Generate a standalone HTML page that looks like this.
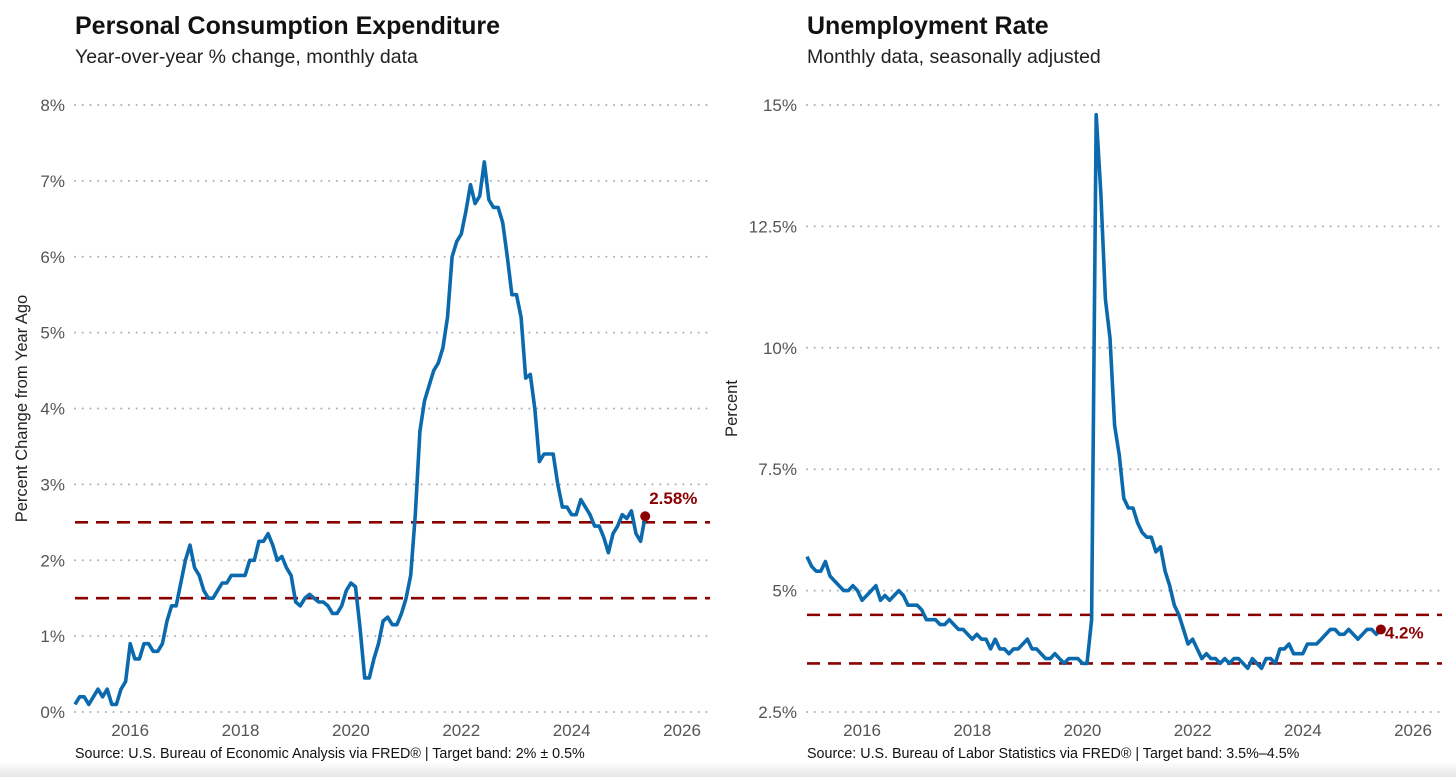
<!DOCTYPE html>
<html><head><meta charset="utf-8"><style>
html,body{margin:0;padding:0;background:#fff;width:1456px;height:777px;overflow:hidden}
svg{display:block;font-family:"Liberation Sans",Arial,sans-serif}
</style></head><body>
<svg id="chart" width="1456" height="777">
<defs><linearGradient id="sh" x1="0" y1="0" x2="0" y2="1"><stop offset="0" stop-color="#fff"/><stop offset="1" stop-color="#e6e6e6"/></linearGradient></defs>
<rect x="0" y="762" width="1456" height="15" fill="url(#sh)"/>
</svg>
<script>
const pceValues=[0.1,0.2,0.2,0.1,0.2,0.3,0.2,0.3,0.1,0.1,0.3,0.4,
0.9,0.7,0.7,0.9,0.9,0.8,0.8,0.9,1.2,1.4,1.4,1.7,
2.0,2.2,1.9,1.8,1.6,1.5,1.5,1.6,1.7,1.7,1.8,1.8,
1.8,1.8,2.0,2.0,2.25,2.25,2.35,2.2,2.0,2.05,1.9,1.8,
1.45,1.4,1.5,1.55,1.5,1.45,1.45,1.4,1.3,1.3,1.4,1.6,
1.7,1.65,1.1,0.45,0.45,0.7,0.9,1.2,1.25,1.15,1.15,1.3,
1.5,1.8,2.6,3.7,4.1,4.3,4.5,4.6,4.8,5.2,6.0,6.2,
6.3,6.6,6.95,6.7,6.8,7.25,6.75,6.65,6.65,6.45,6.0,5.5,
5.5,5.2,4.4,4.45,4.0,3.3,3.4,3.4,3.4,3.0,2.7,2.7,
2.6,2.6,2.8,2.7,2.6,2.45,2.45,2.3,2.1,2.35,2.45,2.6,
2.55,2.65,2.35,2.25,2.58];
const pceTicks=[0,1,2,3,4,5,6,7,8];
const pceBand=[1.5,2.5];
const unrateValues=[5.7,5.5,5.4,5.4,5.6,5.3,5.2,5.1,5.0,5.0,5.1,5.0,
4.8,4.9,5.0,5.1,4.8,4.9,4.8,4.9,5.0,4.9,4.7,4.7,
4.7,4.6,4.4,4.4,4.4,4.3,4.3,4.4,4.3,4.2,4.2,4.1,
4.0,4.1,4.0,4.0,3.8,4.0,3.8,3.8,3.7,3.8,3.8,3.9,
4.0,3.8,3.8,3.7,3.6,3.6,3.7,3.6,3.5,3.6,3.6,3.6,
3.5,3.5,4.4,14.8,13.2,11.0,10.2,8.4,7.8,6.9,6.7,6.7,
6.4,6.2,6.1,6.1,5.8,5.9,5.4,5.1,4.7,4.5,4.2,3.9,
4.0,3.8,3.6,3.7,3.6,3.6,3.5,3.6,3.5,3.6,3.6,3.5,
3.4,3.6,3.5,3.4,3.6,3.6,3.5,3.8,3.8,3.9,3.7,3.7,
3.7,3.9,3.9,3.9,4.0,4.1,4.2,4.2,4.1,4.1,4.2,4.1,
4.0,4.1,4.2,4.2,4.1,4.2];
const unrateTicks=[2.5,5,7.5,10,12.5,15];
const unrateBand=[3.5,4.5];
const yearTicks=[2016,2018,2020,2022,2024,2026];

const svg=document.getElementById('chart');
const NS='http://www.w3.org/2000/svg';
function mk(tag,attrs,parent){const e=document.createElementNS(NS,tag);for(const k in attrs)e.setAttribute(k,attrs[k]);(parent||svg).appendChild(e);return e;}

function panel(o){
  const g=mk('g',{});
  
  
  const x=t=>o.x0+(t-2015)*(o.x1-o.x0)/11;
  const y=v=>o.yb+(v-o.vmin)*(o.yt-o.yb)/(o.vmax-o.vmin);
  const xm=i=>x(2015+i/12);
  let t=mk('text',{x:o.x0,y:34,'font-size':25,'font-weight':'bold',fill:'#111'},g);t.textContent=o.title;
  
  t=mk('text',{x:o.x0,y:63,'font-size':19.5,fill:'#222'},g);t.textContent=o.sub;
  
  o.ticks.forEach(v=>{
    const l=mk('line',{x1:o.x0,x2:o.x0+635,y1:y(v),y2:y(v),stroke:'#b0b0b0','stroke-width':2,'stroke-dasharray':'0.1 7.6','stroke-linecap':'round'},g);
    
    const tl=mk('text',{x:o.x0-10,y:y(v)+6,'font-size':17,fill:'#555','text-anchor':'end'},g);tl.textContent=o.fmt(v);
    
  });
  yearTicks.forEach(yr=>{
    const tl=mk('text',{x:x(yr),y:736,'font-size':17,fill:'#555','text-anchor':'middle'},g);tl.textContent=yr;
    
  });
  const yt=mk('text',{x:0,y:0,'font-size':16.5,fill:'#222','text-anchor':'middle',transform:`translate(${o.ytx},${(o.yt+o.yb)/2}) rotate(-90)`},g);yt.textContent=o.ytitle;
  
  o.band.forEach(v=>{
    const l=mk('line',{x1:o.x0,x2:o.x0+635,y1:y(v),y2:y(v),stroke:'#8b0000','stroke-width':2.6,'stroke-dasharray':'13 8'},g);
    
  });
  const d=o.vals.map((v,i)=>(i?'L':'M')+xm(i).toFixed(1)+' '+y(v).toFixed(1)).join('');
  const p=mk('path',{d:d,fill:'none',stroke:'#0b6aad','stroke-width':3.6,'stroke-linejoin':'round'},g);
  
  const n=o.vals.length-1;
  const c=mk('circle',{cx:xm(n),cy:y(o.last),r:5,fill:'#8b0000'},g);
  
  const lt=mk('text',{x:xm(n)+o.lx,y:y(o.last)+o.ly,'font-size':17,'font-weight':'bold',fill:'#8b0000'},g);lt.textContent=o.lastLabel;
  
  const s=mk('text',{x:o.x0,y:758,'font-size':14.3,fill:'#111'},g);s.textContent=o.src;
  
}
panel({name:'pce-panel',x0:75,x1:682,title:'Personal Consumption Expenditure',sub:'Year-over-year % change, monthly data',
  ticks:pceTicks,vmin:0,vmax:8,yb:712,yt:105,fmt:v=>v+'%',ytitle:'Percent Change from Year Ago',ytx:27,band:pceBand,vals:pceValues,
  last:pceValues[pceValues.length-1],lastLabel:'2.58%',lx:4,ly:-12,
  src:'Source: U.S. Bureau of Economic Analysis via FRED®  |  Target band: 2% ± 0.5%'});
panel({name:'unemployment-panel',x0:807,x1:1413,title:'Unemployment Rate',sub:'Monthly data, seasonally adjusted',
  ticks:unrateTicks,vmin:2.5,vmax:15,yb:712,yt:105,fmt:v=>v+'%',ytitle:'Percent',ytx:737,band:unrateBand,vals:unrateValues,
  last:unrateValues[unrateValues.length-1],lastLabel:'4.2%',lx:4,ly:9,
  src:'Source: U.S. Bureau of Labor Statistics via FRED®  |  Target band: 3.5%–4.5%'});
</script>
</body></html>
